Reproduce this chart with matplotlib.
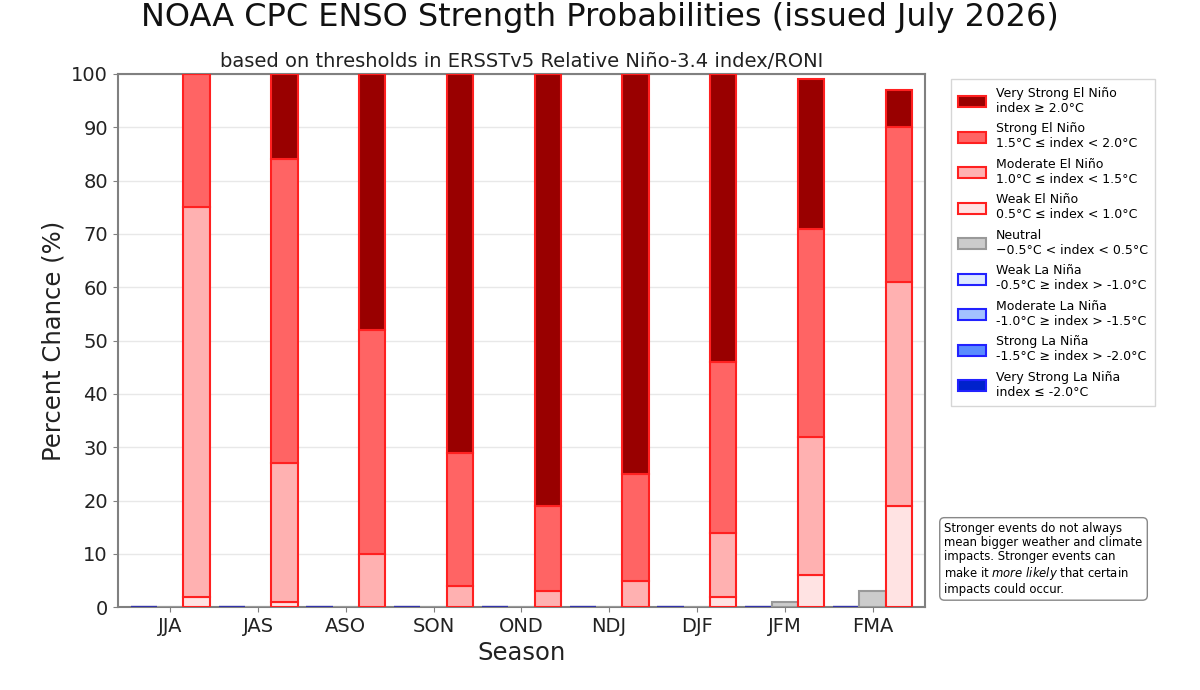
import numpy as np
import matplotlib
matplotlib.use("Agg")
import matplotlib.pyplot as plt
from matplotlib.patches import Patch

seasons = ["JJA", "JAS", "ASO", "SON", "OND", "NDJ", "DJF", "JFM", "FMA"]

# El Nino categories (percent)
weak_en = [2, 1, 0, 0, 0, 0, 2, 6, 19]
mod_en = [73, 26, 10, 4, 3, 5, 12, 26, 42]
strong_en = [25, 57, 42, 25, 16, 20, 32, 39, 29]
vstrong_en = [0, 16, 48, 71, 81, 75, 54, 28, 7]
# Neutral
neutral = [0, 0, 0, 0, 0, 0, 0, 1, 3]
# La Nina categories
weak_ln = [0, 0, 0, 0, 0, 0, 0, 0, 0]
mod_ln = [0, 0, 0, 0, 0, 0, 0, 0, 0]
strong_ln = [0, 0, 0, 0, 0, 0, 0, 0, 0]
vstrong_ln = [0, 0, 0, 0, 0, 0, 0, 0, 0]

en_colors = ["#ffe3e3", "#ffb1b1", "#ff6464", "#990000"]
ln_colors = ["#dde9ff", "#a3c1ff", "#5a8cff", "#0022cc"]
neutral_color = "#cccccc"

x = np.arange(len(seasons))
w = 0.3

fig = plt.figure(figsize=(12, 6.9), dpi=100)
ax = fig.add_axes([0.098, 0.12, 0.673, 0.773])

# La Nina stacked bars (left)
bottom = np.zeros(len(seasons))
for vals, c in zip([weak_ln, mod_ln, strong_ln, vstrong_ln], ln_colors):
    ax.bar(x - w, vals, w, bottom=bottom, color=c, edgecolor="#3333aa", linewidth=1.5, zorder=3)
    bottom += np.array(vals)

# Neutral (middle)
ax.bar(x, neutral, w, color=neutral_color, edgecolor="#999999", linewidth=1.5, zorder=3)

# El Nino stacked bars (right)
bottom = np.zeros(len(seasons))
for vals, c in zip([weak_en, mod_en, strong_en, vstrong_en], en_colors):
    ax.bar(x + w, vals, w, bottom=bottom, color=c, edgecolor="#ff2020", linewidth=1.5, zorder=3)
    bottom += np.array(vals)

ax.set_xlim(-0.6, 8.6)
ax.set_ylim(0, 100)
ax.set_yticks(np.arange(0, 101, 10))
ax.set_xticks(x)
ax.set_xticklabels(seasons)
ax.tick_params(labelsize=14, colors="#222222")
ax.tick_params(axis="both", color="#808080")
ax.yaxis.grid(True, color="#e8e8e8", linewidth=1, zorder=0)
for s in ax.spines.values():
    s.set_color("#808080")
    s.set_linewidth(1.5)

ax.set_ylabel("Percent Chance (%)", fontsize=17.5, color="#222222", labelpad=4)
ax.set_xlabel("Season", fontsize=17.5, color="#222222", labelpad=4)
ax.set_title("based on thresholds in ERSSTv5 Relative Niño-3.4 index/RONI", fontsize=14, color="#222222", pad=5)
fig.suptitle("NOAA CPC ENSO Strength Probabilities (issued July 2026)", fontsize=23, y=0.997, color="#111111")

labels = [
    ("Very Strong El Niño\nindex ≥ 2.0°C", en_colors[3], "#ff2020"),
    ("Strong El Niño\n1.5°C ≤ index < 2.0°C", en_colors[2], "#ff2020"),
    ("Moderate El Niño\n1.0°C ≤ index < 1.5°C", en_colors[1], "#ff2020"),
    ("Weak El Niño\n0.5°C ≤ index < 1.0°C", en_colors[0], "#ff2020"),
    ("Neutral\n−0.5°C < index < 0.5°C", neutral_color, "#999999"),
    ("Weak La Niña\n-0.5°C ≥ index > -1.0°C", ln_colors[0], "#2222ff"),
    ("Moderate La Niña\n-1.0°C ≥ index > -1.5°C", ln_colors[1], "#2222ff"),
    ("Strong La Niña\n-1.5°C ≥ index > -2.0°C", ln_colors[2], "#2222ff"),
    ("Very Strong La Niña\nindex ≤ -2.0°C", ln_colors[3], "#2222ff"),
]
handles = [Patch(facecolor=fc, edgecolor=ec, linewidth=1.5, label=l) for l, fc, ec in labels]
fig.legend(handles=handles, loc="upper left", bbox_to_anchor=(0.787, 0.894),
           fontsize=9, frameon=True, edgecolor="#cccccc", fancybox=False,
           handlelength=2.2, handleheight=1.0, labelspacing=0.6, borderpad=0.6)

fig.text(0.787, 0.243,
         "Stronger events do not always\nmean bigger weather and climate\nimpacts. Stronger events can\n"
         "make it $\\it{more\\ likely}$ that certain\nimpacts could occur.",
         fontsize=8.4, va="top", ha="left", linespacing=1.1,
         bbox=dict(boxstyle="round,pad=0.4", facecolor="white", edgecolor="#888888"))

fig.savefig("out.png", dpi=100)
